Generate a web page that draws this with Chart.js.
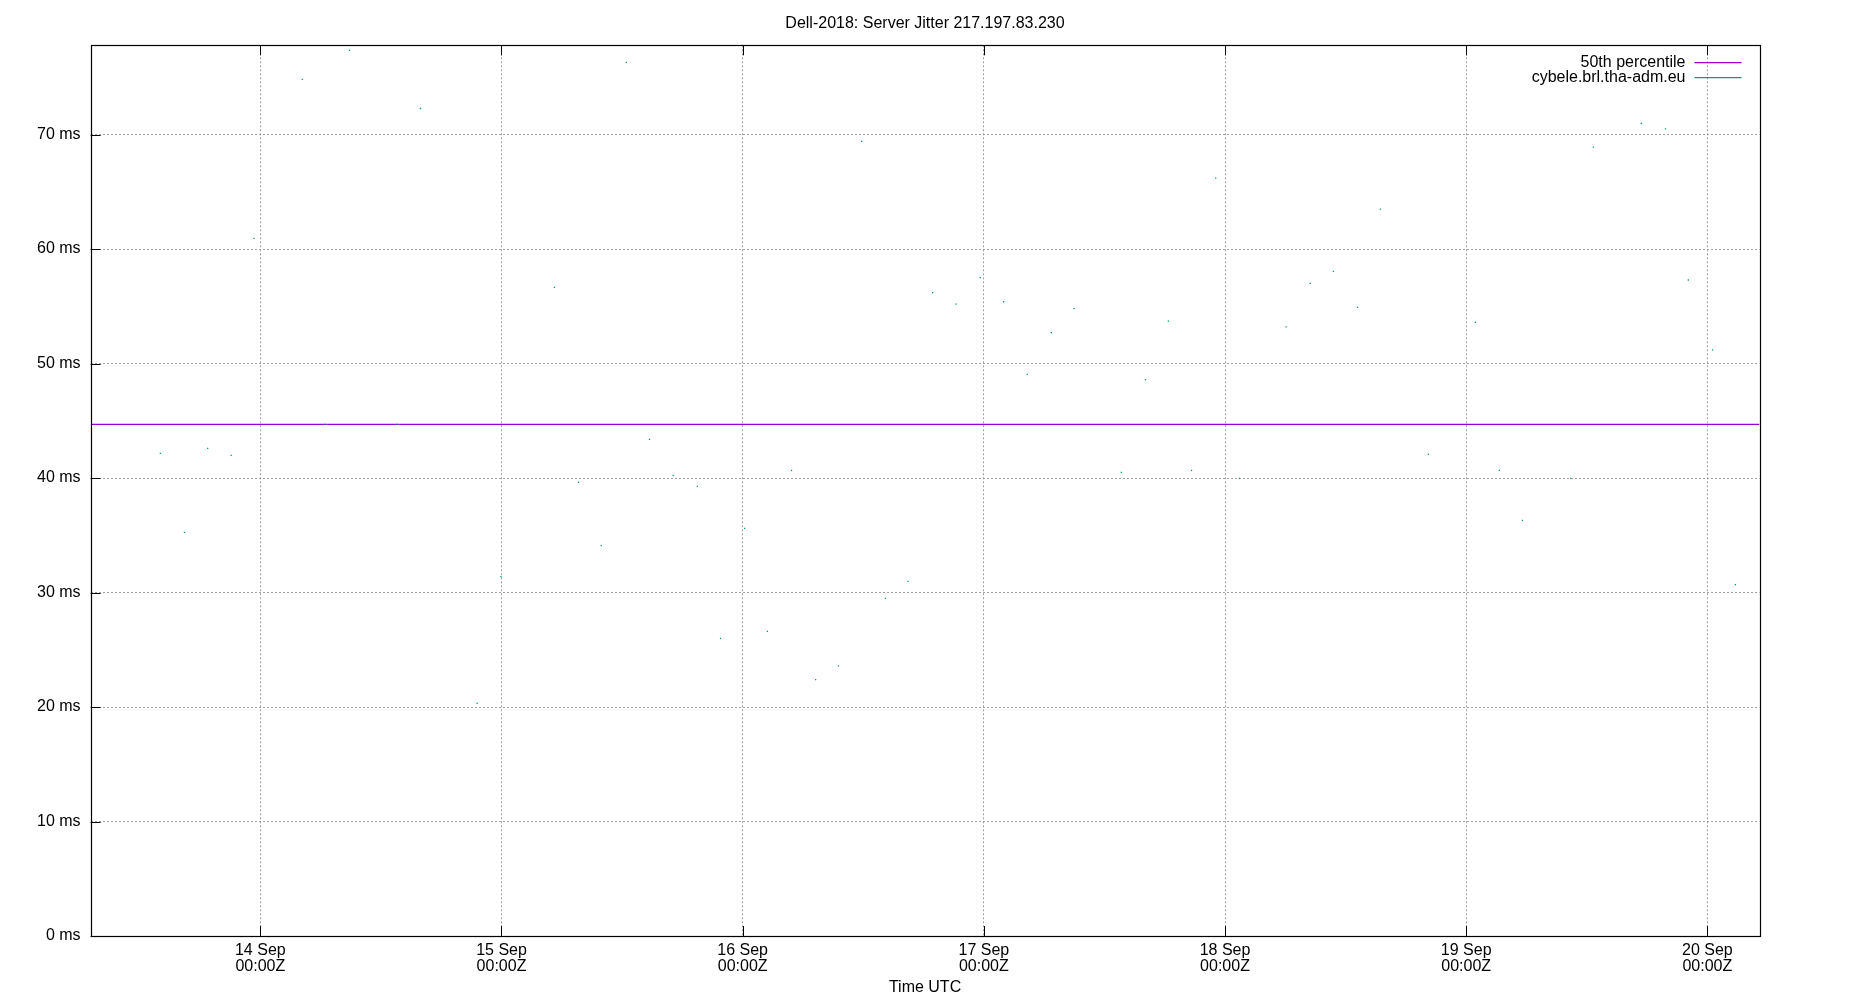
<!DOCTYPE html>
<html>
<head>
<meta charset="utf-8">
<title>Dell-2018: Server Jitter 217.197.83.230</title>
<script src="https://cdn.jsdelivr.net/npm/chart.js@4.4.1/dist/chart.umd.min.js"></script>
<style>
  html, body { margin: 0; padding: 0; background: #ffffff; }
  #wrap { width: 1850px; height: 1000px; }
</style>
</head>
<body>
<div id="wrap"><canvas id="c" width="1850" height="1000"></canvas></div>
<script>
// ---- data (hours since 14 Sep 00:00Z) ----
const titleText = "Dell-2018: Server Jitter 217.197.83.230";
const seriesName = "cybele.brl.tha-adm.eu";
const medianName = "50th percentile";
const hours = [
  -9.95, -7.55, -5.24, -2.90, -0.63, 4.17, 6.44, 8.88, 13.60, 15.94,
  21.58, 23.94, 29.27, 31.67, 33.93, 36.42, 38.73, 41.09, 43.49, 45.80,
  48.19, 50.46, 52.86, 55.26, 57.53, 59.84, 62.20, 64.46, 66.90, 69.25,
  71.65, 73.97, 76.32, 78.72, 80.98, 85.69, 88.09, 90.36, 92.67, 95.07,
  97.43, 102.08, 104.48, 106.79, 109.19, 111.46, 116.24, 120.92, 123.30, 125.60,
  130.41, 132.65, 137.43, 139.84, 142.11, 144.52, 146.79
];
const jitterMs = [
  42.16, 35.26, 42.59, 41.98, 60.93, 74.82, 44.69, 77.35, 44.69, 72.28,
  20.32, 31.4, 56.65, 39.62, 34.1, 76.30, 43.38, 40.23, 39.27, 26.0,
  35.6, 26.6, 40.67, 22.4, 23.6, 69.4, 29.5, 30.98, 56.2, 55.2,
  57.5, 55.4, 49.06, 52.7, 54.8, 40.5, 48.6, 53.7, 40.67, 66.2,
  39.97, 53.2, 57.0, 58.05, 54.9, 63.5, 42.07, 53.6, 40.67, 36.3,
  39.97, 68.9, 70.97, 70.5, 57.3, 51.2, 30.7
];
const medianMs = 44.69;
const dayTicks = [0, 24, 48, 72, 96, 120, 144];
const dayLabels = ["14 Sep", "15 Sep", "16 Sep", "17 Sep", "18 Sep", "19 Sep", "20 Sep"];
const timeLabel = "00:00Z";
const xMin = -16.89, xMax = 149.19;
const yMin = 0, yMax = 77.8, yStep = 10;

const FONT = "'Liberation Sans', Arial, 'DejaVu Sans', sans-serif";
const PURPLE = "#9400d3";
const TEAL = "#009e73";

const frameAndLegend = {
  id: 'frameAndLegend',
  afterDraw(chart) {
    const ctx = chart.ctx;
    const a = chart.chartArea;
    const xs = chart.scales.x, ys = chart.scales.y;
    ctx.save();
    // title, centred on the whole canvas (gnuplot style)
    ctx.font = "16px " + FONT;
    ctx.fillStyle = '#000';
    ctx.textAlign = 'center';
    ctx.textBaseline = 'alphabetic';
    ctx.fillText(titleText, chart.width / 2, 28);

    ctx.strokeStyle = '#000';
    ctx.lineWidth = 1;
    // inward ticks
    ctx.beginPath();
    xs.ticks.forEach(t => {
      const px = Math.round(xs.getPixelForValue(t.value)) + 0.5;
      ctx.moveTo(px, a.bottom); ctx.lineTo(px, a.bottom - 10);
      ctx.moveTo(px, a.top); ctx.lineTo(px, a.top + 10);
    });
    ys.ticks.forEach(t => {
      const py = Math.round(ys.getPixelForValue(t.value)) + 0.5;
      ctx.moveTo(a.left, py); ctx.lineTo(a.left + 10, py);
    });
    ctx.stroke();
    // frame
    ctx.lineWidth = 1.2;
    ctx.strokeRect(Math.round(a.left) + 0.5, Math.round(a.top) + 0.5,
                   Math.round(a.right - a.left), Math.round(a.bottom - a.top));
    // legend (gnuplot style: right-aligned text, sample line to the right)
    const ds = chart.data.datasets;
    const legendOrder = [1, 0];
    ctx.textAlign = 'right';
    legendOrder.forEach((di, row) => {
      const lineY = 62.7 + row * 15;
      ctx.fillStyle = '#000';
      ctx.fillText(ds[di].label, a.right - 74, lineY + 4);
      ctx.strokeStyle = ds[di].legendColor;
      ctx.lineWidth = 1.3;
      ctx.beginPath();
      ctx.moveTo(a.right - 65, lineY); ctx.lineTo(a.right - 18, lineY);
      ctx.stroke();
    });
    ctx.restore();
  }
};

new Chart(document.getElementById('c'), {
  data: {
    datasets: [
      {
        type: 'scatter',
        label: seriesName,
        legendColor: TEAL,
        data: hours.map((h, i) => ({ x: h, y: jitterMs[i] })),
        pointStyle: 'rect',
        pointRadius: 0.9,
        pointBorderWidth: 0,
        backgroundColor: TEAL,
        borderColor: TEAL,
        showLine: false,
        order: 0
      },
      {
        type: 'line',
        label: medianName,
        legendColor: PURPLE,
        data: [{ x: xMin, y: medianMs }, { x: xMax, y: medianMs }],
        borderColor: PURPLE,
        borderWidth: 1.4,
        pointRadius: 0,
        fill: false,
        order: 1
      }
    ]
  },
  options: {
    responsive: false,
    devicePixelRatio: 1,
    animation: false,
    events: [],
    layout: { padding: { left: 0, right: 90.5, top: 45.3, bottom: 0 } },
    plugins: {
      legend: { display: false },
      tooltip: { enabled: false },
      title: { display: false }
    },
    scales: {
      x: {
        type: 'linear',
        min: xMin,
        max: xMax,
        afterBuildTicks: (s) => { s.ticks = dayTicks.map(v => ({ value: v })); },
        afterFit: (s) => { s.height = 64; },
        grid: { color: '#a0a0a0', lineWidth: 1, drawTicks: false },
        border: { display: false, dash: [2, 2] },
        ticks: {
          color: '#000',
          padding: 6,
          maxRotation: 0,
          autoSkip: false,
          font: { family: FONT, size: 16, lineHeight: 1.02 },
          callback: (v) => {
            const i = dayTicks.indexOf(v);
            return i >= 0 ? [dayLabels[i], timeLabel] : '';
          }
        },
        title: {
          display: true,
          text: 'Time UTC',
          color: '#000',
          font: { family: FONT, size: 16, lineHeight: 1.2 },
          padding: { top: 0, bottom: 3 }
        }
      },
      y: {
        type: 'linear',
        min: yMin,
        max: yMax,
        afterBuildTicks: (s) => {
          const t = [];
          for (let v = yMin; v <= yMax; v += yStep) t.push({ value: v });
          s.ticks = t;
        },
        afterFit: (s) => { s.width = 90.6; },
        grid: { color: '#a0a0a0', lineWidth: 1, drawTicks: false },
        border: { display: false, dash: [2, 2] },
        ticks: {
          color: '#000',
          padding: 10,
          font: { family: FONT, size: 16 },
          callback: (v) => v + ' ms'
        }
      }
    }
  },
  plugins: [frameAndLegend]
});
</script>
</body>
</html>
